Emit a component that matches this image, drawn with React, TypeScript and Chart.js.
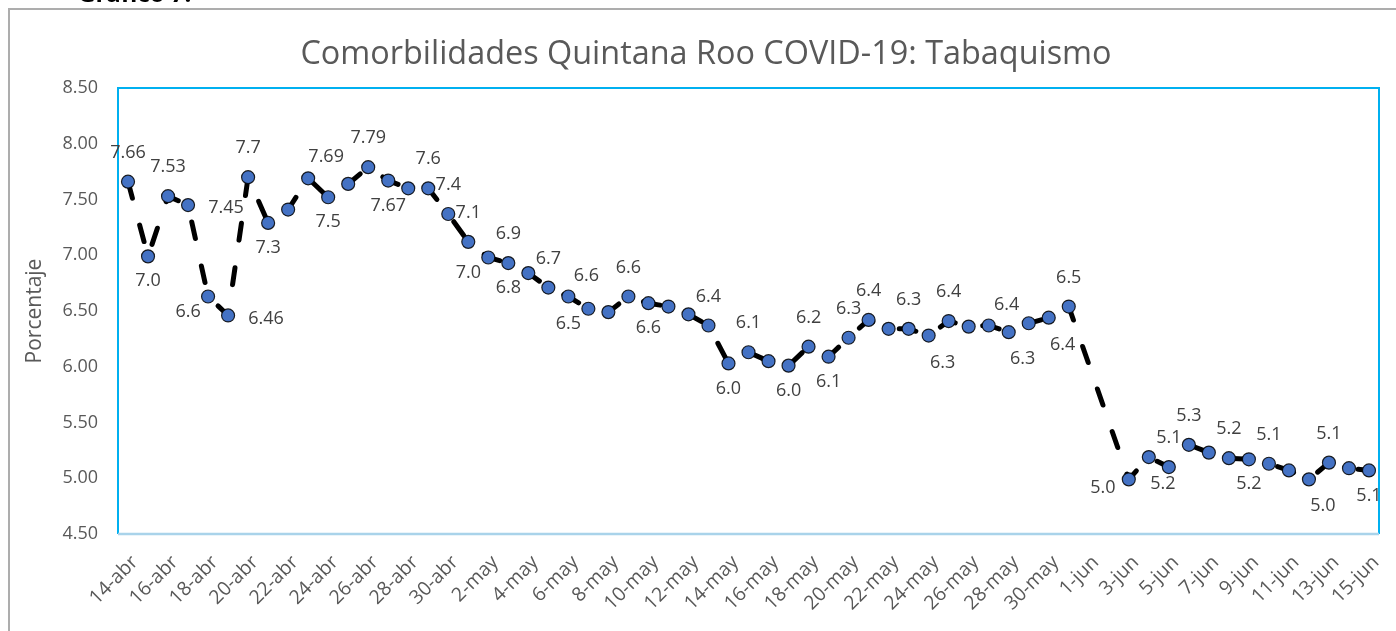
import React, { useEffect, useRef } from "react";
import { Chart, registerables } from "chart.js";

Chart.register(...registerables);

const categories = [
  "14-abr", "15-abr", "16-abr", "17-abr", "18-abr", "19-abr", "20-abr", "21-abr", "22-abr", "23-abr",
  "24-abr", "25-abr", "26-abr", "27-abr", "28-abr", "29-abr", "30-abr",
  "1-may", "2-may", "3-may", "4-may", "5-may", "6-may", "7-may", "8-may", "9-may", "10-may",
  "11-may", "12-may", "13-may", "14-may", "15-may", "16-may", "17-may", "18-may", "19-may", "20-may",
  "21-may", "22-may", "23-may", "24-may", "25-may", "26-may", "27-may", "28-may", "29-may", "30-may", "31-may",
  "1-jun", "2-jun", "3-jun", "4-jun", "5-jun", "6-jun", "7-jun", "8-jun", "9-jun", "10-jun",
  "11-jun", "12-jun", "13-jun", "14-jun", "15-jun",
];

const tabaquismo: (number | null)[] = [
  7.66, 6.99, 7.53, 7.45, 6.63, 6.46, 7.70, 7.29, 7.41, 7.69,
  7.52, 7.64, 7.79, 7.67, 7.60, 7.60, 7.37,
  7.12, 6.98, 6.93, 6.84, 6.71, 6.63, 6.52, 6.49, 6.63, 6.57,
  6.54, 6.47, 6.37, 6.03, 6.13, 6.05, 6.01, 6.18, 6.09, 6.26,
  6.42, 6.34, 6.34, 6.28, 6.41, 6.36, 6.37, 6.31, 6.39, 6.44, 6.54,
  null, null, 4.99, 5.19, 5.10, 5.30, 5.23, 5.18, 5.17, 5.13,
  5.07, 4.99, 5.14, 5.09, 5.07,
];

const dataLabels: (string | null)[] = [
  "7.66", "7.0", "7.53", "7.45", "6.6", "6.46", "7.7", "7.3", null, "7.69",
  "7.5", null, "7.79", "7.67", null, "7.6", "7.4",
  "7.1", "7.0", "6.9", "6.8", "6.7", "6.6", "6.5", null, "6.6", "6.6",
  null, null, "6.4", "6.0", "6.1", null, "6.0", "6.2", "6.1", "6.3",
  "6.4", null, "6.3", "6.3", "6.4", null, null, "6.3", "6.4", "6.4", "6.5",
  null, null, "5.0", "5.2", "5.1", "5.3", null, "5.2", "5.2", "5.1",
  null, "5.0", "5.1", null, "5.1",
];

const labelPlacement: string[] = [
  "above", "below", "above", "right", "belowLeft", "right", "above", "below", "", "aboveRight",
  "below", "", "above", "below", "", "above", "above",
  "above", "belowLeft", "above", "belowLeft", "above", "aboveRight", "belowLeft", "", "above", "below",
  "", "", "above", "below", "above", "", "below", "above", "below", "above",
  "above", "", "above", "belowRight", "above", "", "", "belowRight", "aboveLeft", "belowRight", "above",
  "", "", "left", "belowRight", "above", "above", "", "above", "below", "above",
  "", "belowRight", "above", "", "below",
];

const yTicks = [4.5, 5.0, 5.5, 6.0, 6.5, 7.0, 7.5, 8.0, 8.5];

const titleText = "Comorbilidades Quintana Roo COVID-19: Tabaquismo";
const yTitleText = "Porcentaje";
const headerText = "Gráfico 7.";

const placementOffsets: Record<string, [number, number]> = {
  above: [0, -29],
  below: [0, 25],
  left: [-26, 9],
  right: [38, 3],
  belowLeft: [-20, 15],
  belowRight: [14, 27],
  aboveRight: [18, -21],
  aboveLeft: [-22, -18],
};

const FONT = "'Open Sans', 'Noto Sans', sans-serif";

const decorPlugin = {
  id: "decor",
  beforeDraw(chart: any) {
    const { ctx, chartArea, width } = chart;
    ctx.save();
    ctx.fillStyle = "#ffffff";
    ctx.fillRect(0, 0, chart.width, chart.height);
    // outer frame
    ctx.strokeStyle = "#ADADAD";
    ctx.lineWidth = 2;
    ctx.beginPath();
    ctx.moveTo(9, chart.height + 5);
    ctx.lineTo(9, 9);
    ctx.lineTo(width + 5, 9);
    ctx.stroke();
    // header text (clipped at top)
    ctx.fillStyle = "#000000";
    ctx.font = `bold 24px ${FONT}`;
    ctx.textAlign = "left";
    ctx.textBaseline = "alphabetic";
    ctx.fillText(headerText, 78, 2);
    // title
    ctx.fillStyle = "#595959";
    ctx.font = `32.4px ${FONT}`;
    ctx.textAlign = "center";
    ctx.textBaseline = "middle";
    ctx.fillText(titleText, chart.width / 2 + 8, 55);
    // y title
    ctx.save();
    ctx.translate(35, (chartArea.top + chartArea.bottom) / 2);
    ctx.rotate(-Math.PI / 2);
    ctx.font = `21px ${FONT}`;
    ctx.fillText(yTitleText, 0, 0);
    ctx.restore();
    ctx.restore();
  },
  beforeDatasetsDraw(chart: any) {
    const { ctx, chartArea } = chart;
    const { left, right, top, bottom } = chartArea;
    ctx.save();
    ctx.lineWidth = 2;
    ctx.strokeStyle = "#00B0F0";
    ctx.beginPath();
    ctx.moveTo(left, bottom);
    ctx.lineTo(left, top);
    ctx.lineTo(right, top);
    ctx.lineTo(right, bottom);
    ctx.stroke();
    ctx.strokeStyle = "#A9D3EA";
    ctx.lineWidth = 2.5;
    ctx.beginPath();
    ctx.moveTo(left, bottom);
    ctx.lineTo(right, bottom);
    ctx.stroke();
    ctx.restore();
  },
  afterDatasetsDraw(chart: any) {
    const { ctx } = chart;
    const meta = chart.getDatasetMeta(0);
    ctx.save();
    ctx.font = `18px ${FONT}`;
    ctx.fillStyle = "#404040";
    ctx.textAlign = "center";
    ctx.textBaseline = "middle";
    meta.data.forEach((pt: any, i: number) => {
      const txt = dataLabels[i];
      if (!txt || tabaquismo[i] === null) return;
      const off = placementOffsets[labelPlacement[i]] || [0, -29];
      ctx.fillText(txt, pt.x + off[0], pt.y + off[1]);
    });
    ctx.restore();
  },
};

export default function App() {
  const canvasRef = useRef<HTMLCanvasElement | null>(null);

  useEffect(() => {
    if (!canvasRef.current) return;
    const chart = new Chart(canvasRef.current, {
      type: "line",
      data: {
        labels: categories,
        datasets: [
          {
            label: "Tabaquismo",
            data: tabaquismo,
            borderColor: "#000000",
            borderWidth: 5,
            borderDash: [17, 28],
            borderCapStyle: "round",
            tension: 0,
            spanGaps: true,
            pointRadius: 6.5,
            pointBackgroundColor: "#4472C4",
            pointBorderColor: "rgba(0,0,0,0.85)",
            pointBorderWidth: 1.2,
            fill: false,
          },
        ],
      },
      options: {
        animation: false,
        responsive: true,
        maintainAspectRatio: false,
        layout: { padding: { top: 88, right: 17, left: 0, bottom: 0 } },
        plugins: {
          legend: { display: false },
          title: { display: false },
          tooltip: { enabled: false },
        },
        scales: {
          x: {
            type: "category",
            offset: true,
            grid: { display: false, drawTicks: false },
            border: { display: false },
            ticks: {
              autoSkip: false,
              maxRotation: 45,
              minRotation: 45,
              padding: 17,
              labelOffset: 7,
              color: "#595959",
              font: { family: FONT, size: 19.5 },
              callback: (_v: any, index: number) => (index % 2 === 0 ? categories[index] : ""),
            },
            afterFit: (scale: any) => {
              scale.height = 97;
              scale.paddingLeft = 0;
              scale.paddingRight = 0;
            },
          },
          y: {
            min: 4.5,
            max: 8.5,
            afterBuildTicks: (scale: any) => {
              scale.ticks = yTicks.map((v) => ({ value: v }));
            },
            grid: { display: false, drawTicks: false },
            border: { display: false },
            ticks: {
              padding: 20,
              color: "#595959",
              font: { family: FONT, size: 18 },
              callback: (v: any) => Number(v).toFixed(2),
            },
            afterFit: (scale: any) => {
              scale.width = 118;
            },
          },
        },
      },
      plugins: [decorPlugin],
    });
    return () => chart.destroy();
  }, []);

  return (
    <div style={{ position: "absolute", left: 0, top: 0, width: 1396, height: 631 }}>
      <canvas ref={canvasRef} />
    </div>
  );
}
